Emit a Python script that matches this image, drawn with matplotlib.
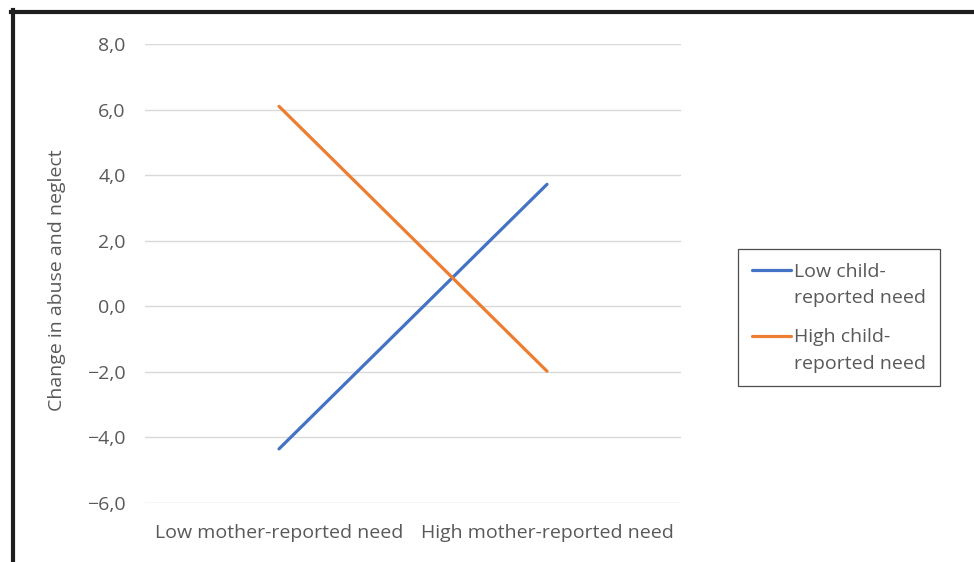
import matplotlib
matplotlib.use("Agg")
import matplotlib.pyplot as plt
import numpy as np
from matplotlib.lines import Line2D
from matplotlib.legend_handler import HandlerLine2D

# values
categories = ["Low mother-reported need", "High mother-reported need"]
low_child = [-4.35, 3.72]
high_child = [6.1, -1.98]
series_labels = ["Low child-\nreported need", "High child-\nreported need"]
yticks = [-6, -4, -2, 0, 2, 4, 6, 8]

plt.rcParams['font.family'] = ['Open Sans', 'DejaVu Sans']
grey = "#595959"
fs = 14


class FirstLineHandler(HandlerLine2D):
    # put the legend line next to the first line of a two-line label
    def create_artists(self, legend, orig_handle, xdescent, ydescent, width, height, fontsize, trans):
        arts = super().create_artists(legend, orig_handle, xdescent, ydescent,
                                      width, height, fontsize, trans)
        for a in arts:
            a.set_ydata(np.asarray(a.get_ydata()) + 0.75 * fontsize)
        return arts


fig = plt.figure(figsize=(9.74, 5.62), dpi=100)
ax = fig.add_axes([145/974, 1-503/562, (681-145)/974, (503-44)/562])

x = range(len(categories))
l1, = ax.plot(x, low_child, color="#4472C4", lw=2.3, solid_capstyle="round", label=series_labels[0])
l2, = ax.plot(x, high_child, color="#ED7D31", lw=2.3, solid_capstyle="round", label=series_labels[1])

ax.set_xlim(-0.5, 1.5)
ax.set_ylim(-6, 8)
ax.set_xticks(list(x))
ax.set_xticklabels(categories, fontsize=fs, color=grey)
ax.set_yticks(yticks)
ax.set_yticklabels([("%.1f" % v).replace(".", ",").replace("-", "\u2212") for v in yticks],
                   fontsize=fs, color=grey)
ax.tick_params(length=0, pad=14)
ax.tick_params(axis="x", pad=15)
ax.grid(axis="y", color="#D9D9D9", lw=1)
ax.set_axisbelow(True)
for s in ax.spines.values():
    s.set_visible(False)

fig.text(57/974, 1-280/562, "Change in abuse and neglect", rotation=90,
         ha="center", va="center", fontsize=fs, color=grey)

leg = ax.legend(loc="upper left", bbox_to_anchor=(738/974, 1-249/562),
                bbox_transform=fig.transFigure, borderaxespad=0, fontsize=fs,
                handlelength=2.0, handletextpad=0.2, labelspacing=1.1,
                fancybox=False, frameon=True, borderpad=0.7, labelcolor=grey,
                handler_map={l1: FirstLineHandler(), l2: FirstLineHandler()})
for t in leg.get_texts():
    t.set_linespacing(1.6)
leg.get_frame().set_edgecolor("#222222")
leg.get_frame().set_linewidth(0.9)

# screenshot frame at the top and left
fig.add_artist(Line2D([11/974, 1], [1-11.5/562, 1-11.5/562], color="#1e1e1e", lw=3,
                      transform=fig.transFigure))
fig.add_artist(Line2D([13/974, 13/974], [0, 1-10/562], color="#1e1e1e", lw=3,
                      transform=fig.transFigure))

fig.savefig("out.png", dpi=100)
